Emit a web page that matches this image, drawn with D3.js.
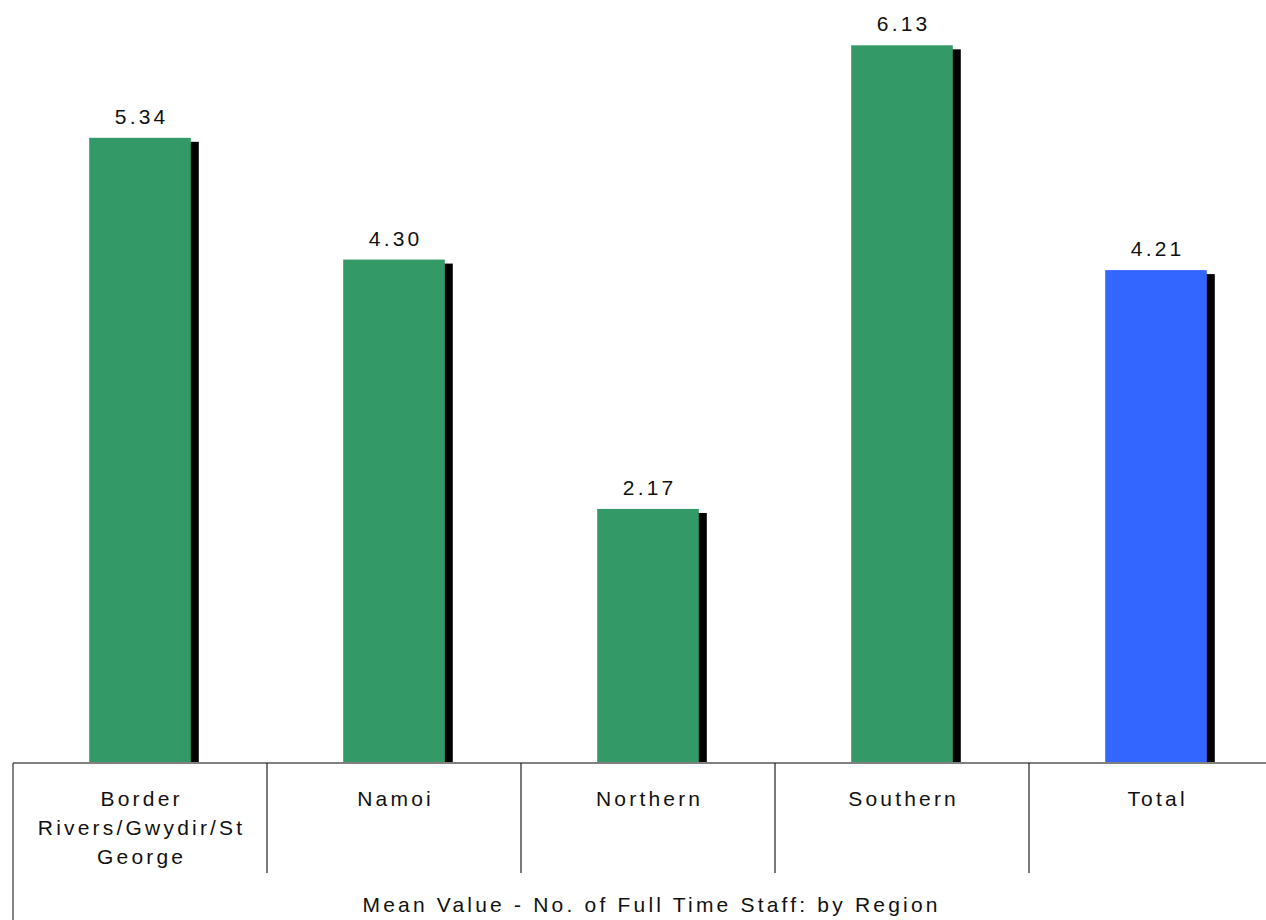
<!DOCTYPE html>
<html><head><meta charset="utf-8">
<script src="https://cdn.jsdelivr.net/npm/d3@7"></script>
<style>body{margin:0;background:#fff;}svg{display:block;}</style>
</head><body>
<script>
const categories = ["Border Rivers/Gwydir/St George", "Namoi", "Northern", "Southern", "Total"];
const categoryLines = [["Border", "Rivers/Gwydir/St", "George"], ["Namoi"], ["Northern"], ["Southern"], ["Total"]];
const values = [5.34, 4.30, 2.17, 6.13, 4.21];
const valueLabels = ["5.34", "4.30", "2.17", "6.13", "4.21"];
const barColors = ["#339966", "#339966", "#339966", "#339966", "#3366FF"];
const axisTitle = "Mean Value - No. of Full Time Staff: by Region";

const W = 1266, H = 920;
const svg = d3.select("body").append("svg").attr("width", W).attr("height", H);
const font = "'Liberation Sans', Arial, sans-serif";
const fs = 21, ls = 3.2;

const x = d3.scaleBand().domain(categories).range([13, 1283]).paddingInner(0).paddingOuter(0);
const y = d3.scaleLinear().domain([0, 6.5]).range([763, 2]);
const bw = x.bandwidth() * 0.4;
const off = (x.bandwidth() - bw) / 2;

const g = svg.append("g");
g.selectAll("rect.shadow").data(categories).join("rect")
  .attr("x", d => x(d) + off + 8)
  .attr("y", (d, i) => y(values[i]) + 4)
  .attr("width", bw)
  .attr("height", (d, i) => y(0) - y(values[i]) - 4)
  .attr("fill", "#000");
g.selectAll("rect.bar").data(categories).join("rect")
  .attr("x", d => x(d) + off)
  .attr("y", (d, i) => y(values[i]))
  .attr("width", bw)
  .attr("height", (d, i) => y(0) - y(values[i]))
  .attr("fill", (d, i) => barColors[i]);
g.selectAll("text.val").data(categories).join("text")
  .attr("x", d => x(d) + x.bandwidth() / 2 + ls / 2)
  .attr("y", (d, i) => y(values[i]) - 14)
  .attr("text-anchor", "middle")
  .attr("font-family", font).attr("font-size", fs).attr("letter-spacing", ls + "px")
  .attr("fill", "#111")
  .text((d, i) => valueLabels[i]);

svg.append("line").attr("x1", 13).attr("x2", W).attr("y1", y(0)).attr("y2", y(0))
  .attr("stroke", "#808080").attr("stroke-width", 2);
svg.append("line").attr("x1", 13).attr("x2", 13).attr("y1", y(0)).attr("y2", H)
  .attr("stroke", "#333").attr("stroke-width", 1.2);
svg.selectAll("line.div").data(categories.slice(1)).join("line")
  .attr("x1", d => x(d)).attr("x2", d => x(d))
  .attr("y1", y(0)).attr("y2", 873)
  .attr("stroke", "#222").attr("stroke-width", 1.2);
categories.forEach((c, i) => {
  const t = svg.append("text")
    .attr("text-anchor", "middle")
    .attr("font-family", font).attr("font-size", fs).attr("letter-spacing", ls + "px")
    .attr("fill", "#111");
  categoryLines[i].forEach((ln, j) => {
    t.append("tspan").attr("x", x(c) + x.bandwidth() / 2 + ls / 2).attr("y", 806 + j * 29).text(ln);
  });
});
svg.append("text").attr("x", 650 + ls / 2).attr("y", 912).attr("text-anchor", "middle")
  .attr("font-family", font).attr("font-size", fs).attr("letter-spacing", ls + "px")
  .attr("fill", "#111").text(axisTitle);
</script>
</body></html>
